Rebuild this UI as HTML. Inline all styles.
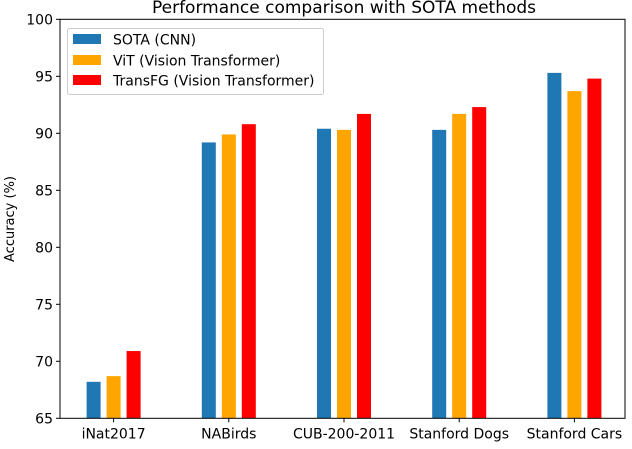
<!DOCTYPE html>
<html><head><meta charset="utf-8"><style>
body{margin:0;background:#fff;}
svg{font-family:"DejaVu Sans","Liberation Sans",sans-serif;}
</style></head><body>
<svg id="chart" width="632" height="444">
<text x="344" y="13" font-size="17" text-anchor="middle">Performance comparison with SOTA methods</text>
<text transform="translate(14,219) rotate(-90)" font-size="13" text-anchor="middle">Accuracy (%)</text>
<g id="bars"></g><g id="axes"></g>
<g>
<rect x="67.5" y="28.5" width="256" height="66" fill="#fff" stroke="#ccc" rx="2"/>
<rect x="73" y="34" width="28" height="10" fill="#1f77b4"/><text x="113" y="44.5" font-size="14">SOTA (CNN)</text>
<rect x="73" y="55" width="28" height="10" fill="#ffa500"/><text x="113" y="65.5" font-size="14">ViT (Vision Transformer)</text>
<rect x="73" y="75" width="28" height="10" fill="#ff0000"/><text x="113" y="85.5" font-size="14">TransFG (Vision Transformer)</text>
</g>
</svg>
<script>
const categories=["iNat2017","NABirds","CUB-200-2011","Stanford Dogs","Stanford Cars"];
const sota=[68.2,89.2,90.4,90.3,95.3];
const vit=[68.7,89.9,90.3,91.7,93.7];
const transfg=[70.9,90.8,91.7,92.3,94.8];
const yTicks=[65,70,75,80,85,90,95,100];
const NS="http://www.w3.org/2000/svg";
const L=60,R=625,T=19.3,B=418.3,ymin=65,ymax=100;
const y=v=>B-(v-ymin)/(ymax-ymin)*(B-T);
const x=i=>113.6+i*115.2;
const bars=document.getElementById('bars'),axes=document.getElementById('axes');
function mk(t,a,p){const e=document.createElementNS(NS,t);for(const k in a)e.setAttribute(k,a[k]);p.appendChild(e);return e;}
const series=[[sota,"#1f77b4","sota"],[vit,"#ffa500","vit"],[transfg,"#ff0000","transfg"]];
series.forEach(([vals,c,n],s)=>{vals.forEach((v,i)=>{
const r=mk('rect',{x:x(i)+(s-1)*20-7,y:y(v),width:14,height:B-y(v),fill:c},bars);


});});
mk('rect',{x:L,y:T,width:R-L,height:B-T,fill:"none",stroke:"#000","stroke-width":1},axes);
yTicks.forEach(t=>{mk('line',{x1:L-4,x2:L,y1:y(t),y2:y(t),stroke:"#000"},axes);
const tx=mk('text',{x:L-7,y:y(t)+5,"font-size":14,"text-anchor":"end"},axes);tx.textContent=t;

});
categories.forEach((c,i)=>{mk('line',{x1:x(i),x2:x(i),y1:B,y2:B+4,stroke:"#000"},axes);
const tx=mk('text',{x:x(i),y:B+20,"font-size":14,"text-anchor":"middle"},axes);tx.textContent=c;

});
</script>
</body></html>
